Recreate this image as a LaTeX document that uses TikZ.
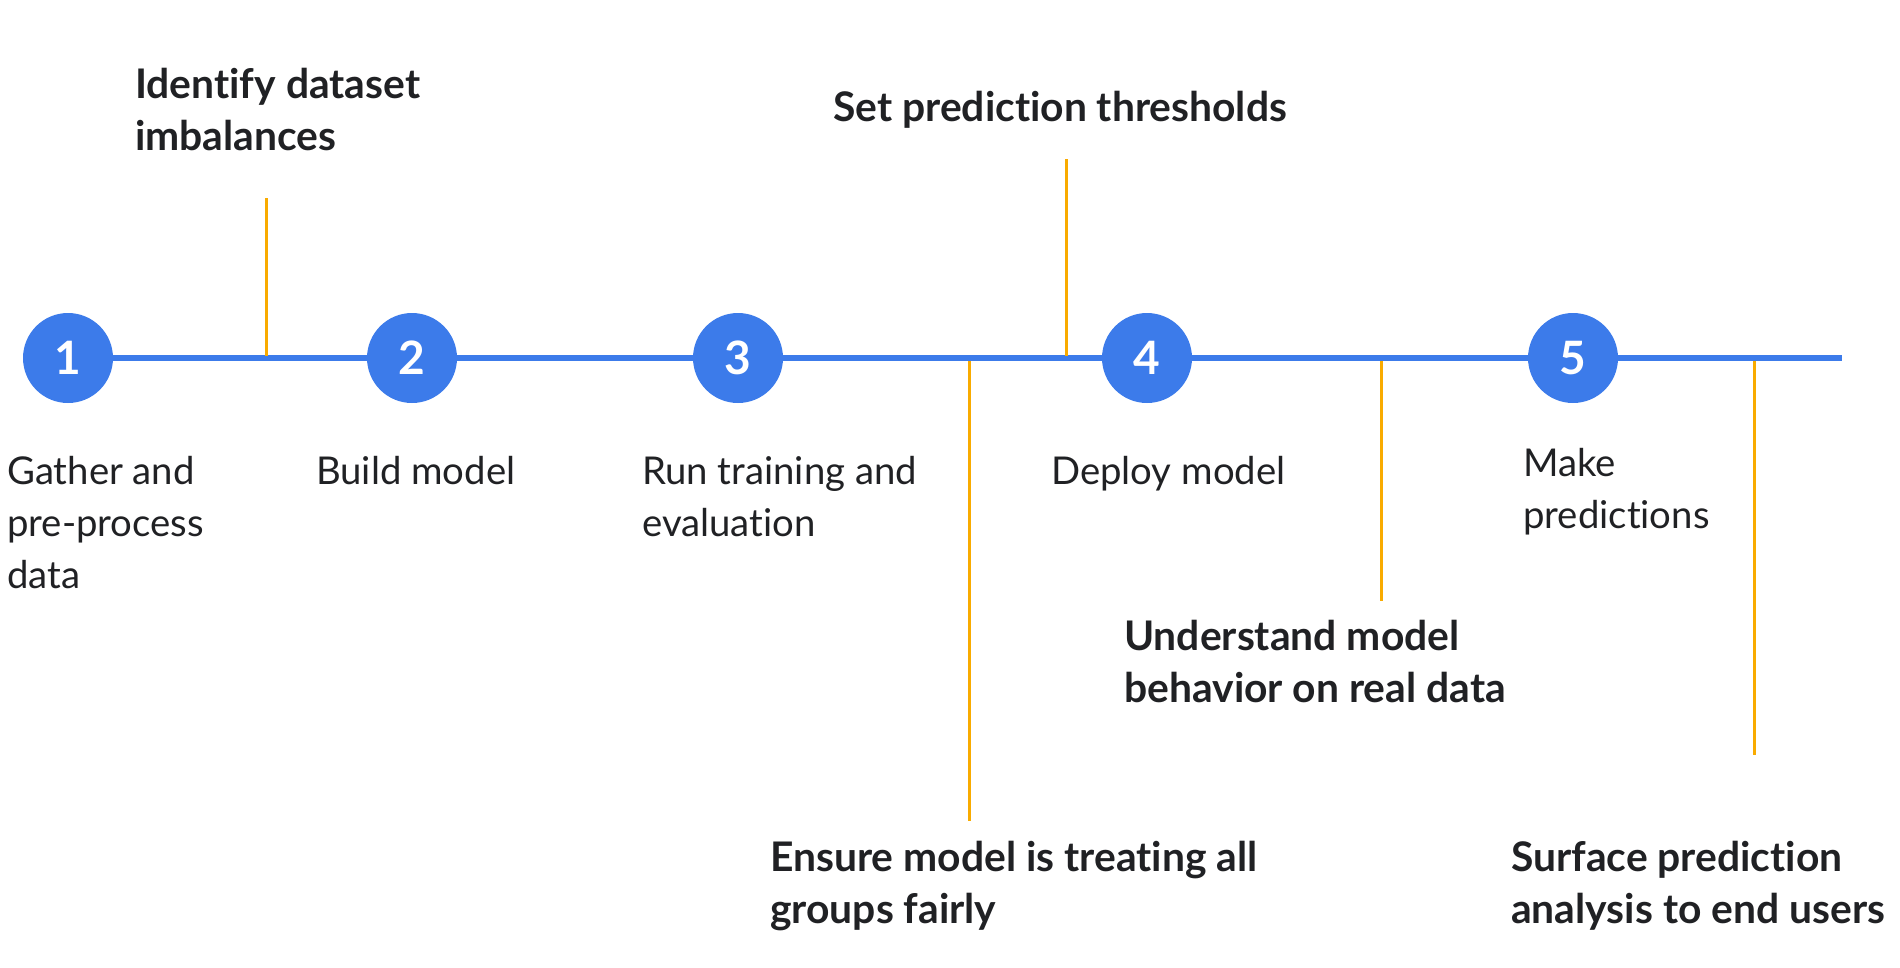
\documentclass[tikz,border=0pt]{standalone}
\usepackage{fontspec}
\setmainfont{Lato}[Ligatures=NoCommon]
\definecolor{gblue}{RGB}{60,123,234}
\definecolor{gorange}{RGB}{249,171,0}
\definecolor{gtext}{RGB}{32,33,36}
\begin{document}
\begin{tikzpicture}[x=1pt,y=-1pt,
  stepcircle/.style={circle,fill=gblue,draw=none,minimum size=90pt,inner sep=0pt,text=white,font=\fontsize{46}{46}\selectfont\bfseries},
  steplabel/.style={anchor=base west,inner sep=0pt,align=left,text=gtext,font=\fontsize{38.3}{52}\selectfont},
  notelabel/.style={anchor=base west,inner sep=0pt,align=left,text=gtext,font=\fontsize{40.8}{52}\selectfont\bfseries},
  bluelink/.style={draw=gblue,line width=5.5pt},
  tick/.style={draw=gorange,line width=3pt}]
\useasboundingbox (0,0) rectangle (1900,967);
% circles
\node[stepcircle] (c1) at (68,358) {1};
\node[stepcircle] (c2) at (412,358) {2};
\node[stepcircle] (c3) at (738,358) {3};
\node[stepcircle] (c4) at (1147,358) {4};
\node[stepcircle] (c5) at (1573,358) {5};
\coordinate (lineend) at (1842,358);
% timeline
\draw[bluelink] (c1.east) -- (c2.west);
\draw[bluelink] (c2.east) -- (c3.west);
\draw[bluelink] (c3.east) -- (c4.west);
\draw[bluelink] (c4.east) -- (c5.west);
\draw[bluelink] (c5.east) -- (lineend);
% orange ticks
\coordinate (t1a) at (266.5,355.5); \coordinate (t1b) at (266.5,198);
\coordinate (t2a) at (1066.5,355.5); \coordinate (t2b) at (1066.5,159);
\coordinate (t3a) at (969,360.5); \coordinate (t3b) at (969,821);
\coordinate (t4a) at (1381,360.5); \coordinate (t4b) at (1381,601);
\coordinate (t5a) at (1754.5,360.5); \coordinate (t5b) at (1754.5,755);
\draw[tick] (t1a) -- (t1b);
\draw[tick] (t2a) -- (t2b);
\draw[tick] (t3a) -- (t3b);
\draw[tick] (t4a) -- (t4b);
\draw[tick] (t5a) -- (t5b);
% step labels (base anchor = baseline of last line)
\node[steplabel] (l1) at (7,588) {Gather and\\pre-process\\data};
\node[steplabel] (l2) at (316,484) {Build model};
\node[steplabel] (l3) at (642,536) {Run training and\\evaluation};
\node[steplabel] (l4) at (1051,484) {Deploy model};
\node[steplabel] (l5) at (1523,528) {Make\\predictions};
% notes
\node[notelabel] (n1) at (135,150) {Identify dataset\\imbalances};
\node[notelabel] (n2) at (833,121.5) {Set prediction thresholds};
\node[notelabel] (n3) at (770,923) {Ensure model is treating all\\groups fairly};
\node[notelabel] (n4) at (1124,702) {Understand model\\behavior on real data};
\node[notelabel] (n5) at (1511,923) {Surface prediction\\analysis to end users};
\end{tikzpicture}
\end{document}
